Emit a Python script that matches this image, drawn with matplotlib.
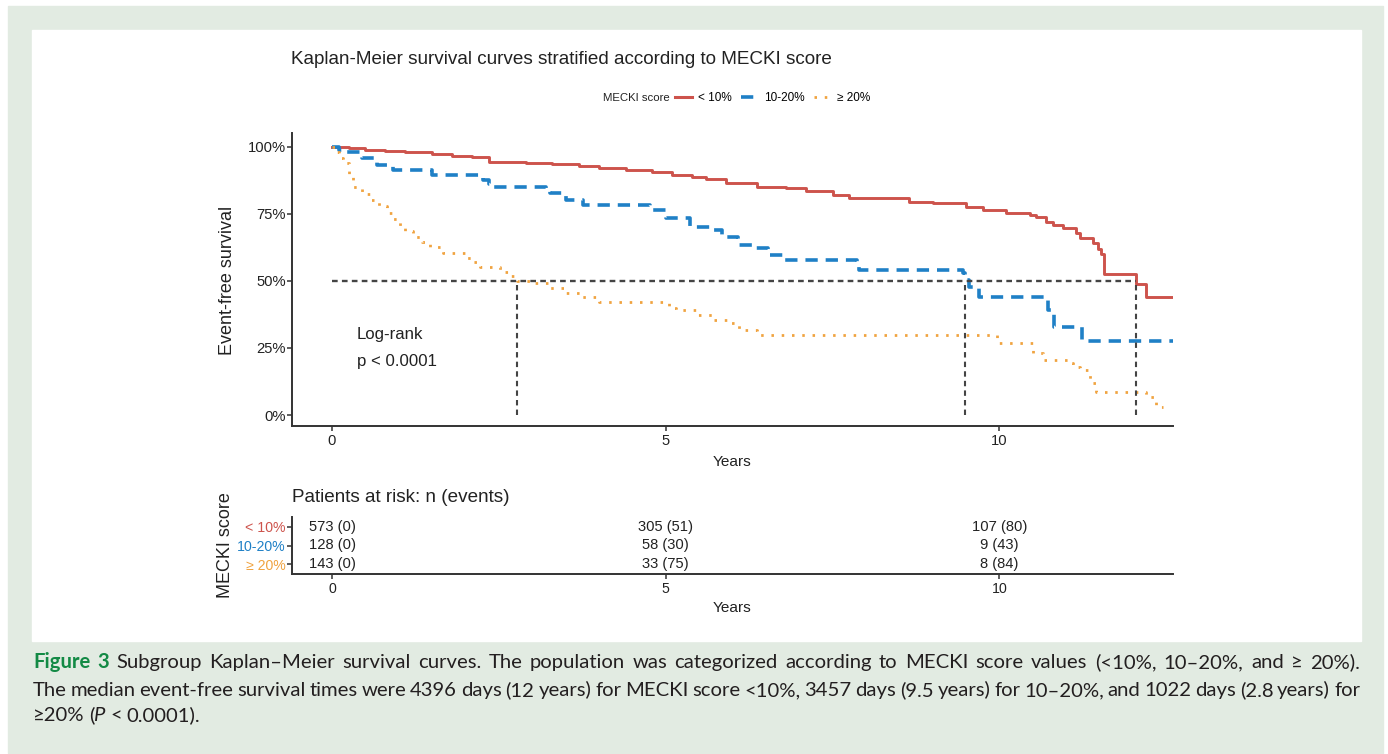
import numpy as np
import matplotlib.pyplot as plt
from matplotlib import font_manager
from matplotlib.patches import Rectangle
from matplotlib.lines import Line2D

W, H = 1388, 754

# Kaplan-Meier steps (years, event-free survival)
t_lt10 = [0, 0.25, 0.5, 0.8, 1.1, 1.5, 1.8, 2.1, 2.35, 2.9, 3.3, 3.7, 4.0, 4.4,
          4.8, 5.1, 5.4, 5.6, 5.9, 6.36, 6.8, 7.1, 7.5, 7.75, 8.65, 9.0, 9.5,
          9.75, 10.1, 10.45, 10.55, 10.7, 10.8, 10.95, 11.15, 11.2, 11.4, 11.47,
          11.52, 11.56, 12.05, 12.2, 12.6]
s_lt10 = [1.0, 0.995, 0.99, 0.985, 0.98, 0.975, 0.968, 0.962, 0.944, 0.94, 0.935,
          0.928, 0.922, 0.915, 0.905, 0.897, 0.888, 0.88, 0.866, 0.851, 0.845,
          0.836, 0.82, 0.81, 0.795, 0.79, 0.776, 0.765, 0.754, 0.745, 0.739,
          0.72, 0.709, 0.698, 0.68, 0.66, 0.64, 0.62, 0.60, 0.526, 0.489, 0.44,
          0.44]

t_10_20 = [0, 0.1, 0.17, 0.45, 0.67, 0.92, 1.5, 2.26, 2.35, 2.41, 3.2, 3.26, 3.5,
           3.76, 4.76, 5.0, 5.36, 5.7, 5.85, 6.08, 6.3, 6.53, 6.75, 7.86, 7.9,
           9.45, 9.48, 9.55, 9.7, 10.72, 10.82, 11.24, 12.6]
s_10_20 = [1.0, 0.99, 0.98, 0.96, 0.933, 0.914, 0.896, 0.877, 0.86, 0.851, 0.84,
           0.828, 0.802, 0.784, 0.765, 0.735, 0.701, 0.69, 0.664, 0.634, 0.623,
           0.597, 0.578, 0.567, 0.541, 0.53, 0.504, 0.478, 0.44, 0.39, 0.33,
           0.276, 0.276]

t_ge20 = [0, 0.05, 0.1, 0.17, 0.25, 0.32, 0.45, 0.57, 0.7, 0.82, 0.92, 1.02, 1.1,
          1.21, 1.35, 1.47, 1.66, 2.02, 2.1, 2.22, 2.51, 2.65, 2.77, 3.0, 3.25,
          3.5, 3.75, 4.0, 5.05, 5.15, 5.46, 5.7, 5.96, 6.1, 6.36, 9.96, 10.5,
          10.65, 11.05, 11.1, 11.2, 11.35, 11.45, 12.2, 12.35, 12.45]
s_ge20 = [1.0, 0.98, 0.96, 0.94, 0.9, 0.851, 0.825, 0.802, 0.78, 0.754, 0.73,
          0.701, 0.685, 0.664, 0.645, 0.627, 0.604, 0.586, 0.57, 0.552, 0.534,
          0.52, 0.5, 0.493, 0.475, 0.455, 0.44, 0.422, 0.40, 0.39, 0.373, 0.354,
          0.343, 0.317, 0.299, 0.269, 0.231, 0.205, 0.194, 0.18, 0.168, 0.119,
          0.086, 0.067, 0.03, 0.03]

medians = [12.05, 9.48, 2.77]

groups = ["< 10%", "10-20%", "\u2265 20%"]
colors = ["#CD534C", "#1F80C6", "#F0A340"]

risk_years = [0, 5, 10]
n_lt10, e_lt10 = [573, 305, 107], [0, 51, 80]
n_10_20, e_10_20 = [128, 58, 9], [0, 30, 43]
n_ge20, e_ge20 = [143, 33, 8], [0, 75, 84]

y_ticks = [0, 0.25, 0.5, 0.75, 1.0]
y_ticklabels = ["0%", "25%", "50%", "75%", "100%"]
x_ticks = [0, 5, 10]

# font: narrow sans if present (the original is horizontally squeezed)
names = {f.name for f in font_manager.fontManager.ttflist}
if "Liberation Sans Narrow" in names:
    FONT, k = "Liberation Sans Narrow", 1.0
else:
    FONT, k = "Liberation Sans", 0.85
plt.rcParams["font.family"] = [FONT, "DejaVu Sans"]
txt = "#222222"
axc = "#333333"


def fx(px):
    return px / W


def fy(py):
    return 1 - py / H


fig = plt.figure(figsize=(W / 100, H / 100), dpi=100, facecolor="white")
fig.patches.append(Rectangle((fx(8), fy(753)), (1383 - 8) / W, (753 - 6) / H,
                             transform=fig.transFigure, color="#e2ebe2", zorder=-2))
fig.patches.append(Rectangle((fx(32), fy(641)), (1361 - 32) / W, (641 - 30) / H,
                             transform=fig.transFigure, color="white", zorder=-1))

# ---- main KM plot
ax = fig.add_axes([fx(292), fy(426), 881 / W, 293 / H])
ax.set_facecolor("none")
ax.step(t_lt10, s_lt10, where="post", color=colors[0], lw=2.1)
ax.step(t_10_20, s_10_20, where="post", color=colors[1], lw=2.6,
        linestyle=(0, (3.4, 2.2)))
ax.step(t_ge20, s_ge20, where="post", color=colors[2], lw=2.0,
        linestyle=(0, (0.9, 2.8)))
ax.plot([0, max(medians)], [0.5, 0.5], color="#444444", lw=1.7, linestyle=(0, (2.4, 1.8)))
ax.vlines(medians, 0, 0.5, color="#444444", lw=1.5, linestyles=[(0, (2.6, 2.0))])

ax.set_xlim(-0.6, 12.6)
ax.set_ylim(-0.041, 1.052)
ax.set_xticks(x_ticks)
ax.set_yticks(y_ticks)
ax.set_yticklabels(y_ticklabels)
for s in ["top", "right"]:
    ax.spines[s].set_visible(False)
for s in ["left", "bottom"]:
    ax.spines[s].set_color(axc)
    ax.spines[s].set_linewidth(1.4)
ax.tick_params(axis="both", length=3.5, width=1.1, color=axc, labelcolor=txt,
               labelsize=12.5 * k)
ax.tick_params(axis="y", pad=1)
ax.tick_params(axis="x", pad=2)

ax.text(0.37, 0.30, "Log-rank", fontsize=14.2 * k, color=txt, va="center")
ax.text(0.37, 0.198, "p < 0.0001", fontsize=14.2 * k, color=txt, va="center")

fig.text(fx(732), fy(462), "Years", fontsize=13 * k, color=txt, ha="center", va="center")
fig.text(fx(228), fy(280), "Event-free survival", fontsize=13, color=txt,
         ha="center", va="center", rotation=90)
fig.text(fx(291), fy(60), "Kaplan-Meier survival curves stratified according to MECKI score",
         fontsize=16 * k, color=txt, ha="left", va="center")

# legend
fig.text(fx(603), fy(98), "MECKI score", fontsize=9.6 * k, color=txt, va="center")
handles = [Line2D([], [], color=colors[0], lw=2.2),
           Line2D([], [], color=colors[1], lw=2.6, linestyle=(0, (3.4, 2.2))),
           Line2D([], [], color=colors[2], lw=2.0, linestyle=(0, (0.9, 2.8)))]
ax.legend(handles, groups, ncol=3, loc="center left", bbox_to_anchor=(fx(675), fy(98)),
          bbox_transform=fig.transFigure, frameon=False, fontsize=10 * k,
          handlelength=1.45, handletextpad=0.5, columnspacing=0.8, borderpad=0,
          borderaxespad=0)

# ---- risk table
ax2 = fig.add_axes([fx(292), fy(574), 881 / W, 57 / H])
ax2.set_facecolor("none")
ax2.set_xlim(-0.6, 12.6)
ax2.set_ylim(2.54, -0.54)
ax2.set_xticks(x_ticks)
ax2.set_yticks(range(len(groups)))
ax2.set_yticklabels(groups)
for lab, c in zip(ax2.get_yticklabels(), colors):
    lab.set_color(c)
for s in ["top", "right"]:
    ax2.spines[s].set_visible(False)
for s in ["left", "bottom"]:
    ax2.spines[s].set_color(axc)
    ax2.spines[s].set_linewidth(1.4)
ax2.tick_params(axis="both", length=3.5, width=1.1, color=axc, labelsize=12 * k)
ax2.tick_params(axis="x", labelcolor=txt, pad=2)
ax2.tick_params(axis="y", pad=1)

rows = [(n_lt10, e_lt10), (n_10_20, e_10_20), (n_ge20, e_ge20)]
for i, (ns, es) in enumerate(rows):
    for yr, n, e in zip(risk_years, ns, es):
        ax2.text(yr, i, f"{n} ({e})", ha="center", va="center", fontsize=12.5 * k, color=txt)

fig.text(fx(292), fy(497), "Patients at risk: n (events)", fontsize=16 * k, color=txt,
         va="center")
fig.text(fx(225), fy(545), "MECKI score", fontsize=13, color=txt,
         ha="center", va="center", rotation=90)
fig.text(fx(732), fy(608), "Years", fontsize=13 * k, color=txt, ha="center", va="center")

# ---- caption (justified like the journal page)
renderer = fig.canvas.get_renderer()
cap = dict(fontsize=14.6, color="#231f20", family=["Lato", "DejaVu Sans"])
bold = dict(cap, color="#138a45", fontweight="bold")
ital = dict(cap, style="italic")


def place(tokens, y_px, x0, x1=None, space=4.5):
    texts = [fig.text(0, fy(y_px), w, va="baseline", **kw) for w, kw, _ in tokens]
    widths = [t.get_window_extent(renderer).width for t in texts]
    nb = sum(1 for *_, g in tokens[:-1] if g)
    gap = space if x1 is None else (x1 - x0 - sum(widths)) / max(nb, 1)
    x = x0
    for t, wd, tok in zip(texts, widths, tokens):
        t.set_x(fx(x))
        x += wd + (gap if tok[2] else 0)


line1 = ("Subgroup Kaplan\u2013Meier survival curves. The population was categorized "
         "according to MECKI score values (<10%, 10\u201320%, and  \u2265 20%).")
line2 = ("The median event-free survival times were 4396 days (12 years) for MECKI "
         "score <10%, 3457 days (9.5 years) for 10\u201320%, and 1022 days (2.8 years) for")
tok1 = [("Figure", bold, True), ("3", bold, True)] + [(w, cap, True) for w in line1.split()]
tok2 = [(w, cap, True) for w in line2.split()]
tok3 = [("\u226520%", cap, True), ("(", cap, False), ("P", ital, True), ("<", cap, True),
        ("0.0001).", cap, True)]
place(tok1, 668, 33, 1360)
place(tok2, 696, 33, 1360)
place(tok3, 721, 33)

fig.savefig("out.png", dpi=100, facecolor=fig.get_facecolor())
